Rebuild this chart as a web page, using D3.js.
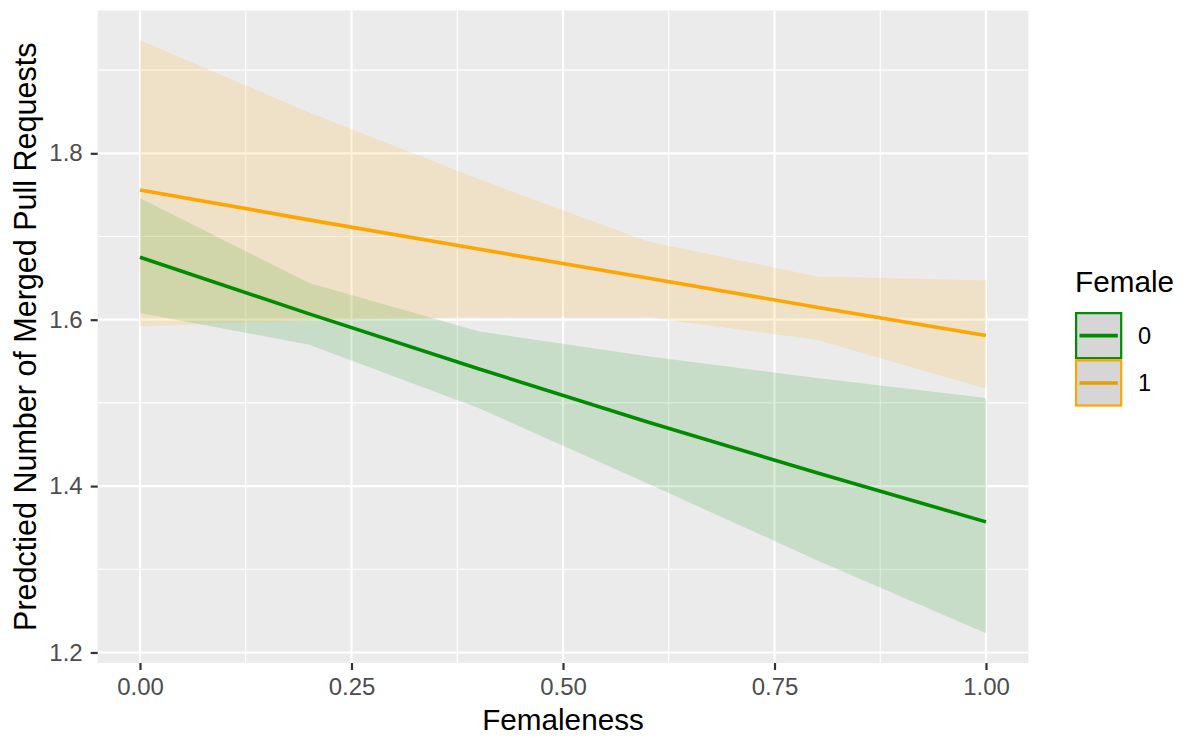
<!DOCTYPE html>
<html>
<head>
  <meta charset="utf-8">
  <script src="https://d3js.org/d3.v7.min.js"></script>
  <style type="text/css">
    body { margin: 0; background: #ffffff; }
    text { font-family: "Liberation Sans", Arial, sans-serif; }
  </style>
</head>
<body>
  <script type="text/javascript">
    "use strict";

    // femaleness values where the model was evaluated
    var femaleness = [0, 0.2, 0.4, 0.6, 0.8, 1.0];

    // Female = 0
    var fit0 = [1.675, 1.607, 1.541, 1.477, 1.416, 1.357];
    var lo0  = [1.608, 1.570, 1.494, 1.403, 1.311, 1.223];
    var hi0  = [1.746, 1.644, 1.586, 1.556, 1.530, 1.506];

    // Female = 1
    var fit1 = [1.756, 1.720, 1.685, 1.650, 1.615, 1.581];
    var lo1  = [1.592, 1.599, 1.603, 1.603, 1.576, 1.517];
    var hi1  = [1.936, 1.849, 1.769, 1.694, 1.652, 1.647];

    var groups = ['0', '1'];
    var colors = ['#008b00', '#ffa500'];

    var xTicks = [0, 0.25, 0.5, 0.75, 1.0];
    var xMinor = [0.125, 0.375, 0.625, 0.875];
    var yTicks = [1.2, 1.4, 1.6, 1.8];
    var yMinor = [1.3, 1.5, 1.7, 1.9];

    var width = 1185,
        height = 738;

    // panel box
    var pLeft = 97.7, pRight = 1028.3, pTop = 10.5, pBottom = 663;

    var svg = d3.select('body')
      .append('svg')
        .attr('width', width)
        .attr('height', height);

    // ggplot style 5% expansion
    var yMin = d3.min(lo0.concat(lo1)),
        yMax = d3.max(hi0.concat(hi1)),
        yPad = (yMax - yMin) * 0.05;

    var x = d3.scaleLinear().domain([-0.05, 1.05]).range([pLeft, pRight]);
    var y = d3.scaleLinear().domain([yMin - yPad, yMax + yPad]).range([pBottom, pTop]);

    //Panel background
    svg.append('rect')
      .attr('x', pLeft).attr('y', pTop)
      .attr('width', pRight - pLeft).attr('height', pBottom - pTop)
      .style('fill', '#ebebeb');

    //Grid lines
    var grid = svg.append('g');
    grid.selectAll('.ymin').data(yMinor).enter().append('line')
      .attr('x1', pLeft).attr('x2', pRight)
      .attr('y1', function (d) { return y(d); })
      .attr('y2', function (d) { return y(d); })
      .style('stroke', '#fff').style('stroke-width', 1.1);
    grid.selectAll('.xmin').data(xMinor).enter().append('line')
      .attr('y1', pTop).attr('y2', pBottom)
      .attr('x1', function (d) { return x(d); })
      .attr('x2', function (d) { return x(d); })
      .style('stroke', '#fff').style('stroke-width', 1.1);
    grid.selectAll('.ymaj').data(yTicks).enter().append('line')
      .attr('x1', pLeft).attr('x2', pRight)
      .attr('y1', function (d) { return y(d); })
      .attr('y2', function (d) { return y(d); })
      .style('stroke', '#fff').style('stroke-width', 2.2);
    grid.selectAll('.xmaj').data(xTicks).enter().append('line')
      .attr('y1', pTop).attr('y2', pBottom)
      .attr('x1', function (d) { return x(d); })
      .attr('x2', function (d) { return x(d); })
      .style('stroke', '#fff').style('stroke-width', 2.2);

    var series = [
      { fit: fit0, lo: lo0, hi: hi0 },
      { fit: fit1, lo: lo1, hi: hi1 }
    ];

    var area = d3.area()
      .x(function (d) { return x(d.x); })
      .y0(function (d) { return y(d.lo); })
      .y1(function (d) { return y(d.hi); });

    var line = d3.line()
      .x(function (d) { return x(d.x); })
      .y(function (d) { return y(d.fit); });

    function rows(s) {
      return femaleness.map(function (f, i) {
        return { x: f, fit: s.fit[i], lo: s.lo[i], hi: s.hi[i] };
      });
    }

    //Confidence ribbons
    series.forEach(function (s, i) {
      svg.append('path')
        .datum(rows(s))
        .attr('d', area)
        .style('fill', colors[i])
        .style('fill-opacity', 0.15);
    });

    //Fitted lines
    series.forEach(function (s, i) {
      svg.append('path')
        .datum(rows(s))
        .attr('d', line)
        .style('fill', 'none')
        .style('stroke', colors[i])
        .style('stroke-width', 3.6);
    });

    //Axes
    var xAxis = svg.append('g')
      .attr('transform', 'translate(0,' + pBottom + ')')
      .call(d3.axisBottom(x).tickValues(xTicks).tickSize(7).tickPadding(8)
        .tickFormat(d3.format('.2f')));
    var yAxis = svg.append('g')
      .attr('transform', 'translate(' + pLeft + ',0)')
      .call(d3.axisLeft(y).tickValues(yTicks).tickSize(7).tickPadding(8)
        .tickFormat(d3.format('.1f')));

    [xAxis, yAxis].forEach(function (a) {
      a.select('.domain').remove();
      a.selectAll('line').style('stroke', '#333333').style('stroke-width', 2.2);
      a.selectAll('text')
        .style('font-family', '"Liberation Sans", Arial, sans-serif')
        .style('font-size', '24px')
        .style('fill', '#4d4d4d');
    });

    //Axis titles
    svg.append('text')
      .attr('x', (pLeft + pRight) / 2)
      .attr('y', 730)
      .style('text-anchor', 'middle')
      .style('font-size', '29.7px')
      .text('Femaleness');

    svg.append('text')
      .attr('transform', 'translate(36,' + (pTop + pBottom) / 2 + ') rotate(-90)')
      .style('text-anchor', 'middle')
      .style('font-size', '30.5px')
      .text('Predctied Number of Merged Pull Requests');

    //Legend
    var legend = svg.append('g').attr('transform', 'translate(1075,0)');
    legend.append('text')
      .attr('x', 0).attr('y', 291.7)
      .style('font-size', '29.7px')
      .text('Female');

    var keySize = 47.3;
    var keys = legend.selectAll('.key').data(groups).enter().append('g')
      .attr('transform', function (d, i) { return 'translate(0,' + (312 + i * keySize) + ')'; });
    keys.append('rect')
      .attr('x', 1.1).attr('y', 1.1)
      .attr('width', keySize - 2.2).attr('height', keySize - 2.2)
      .style('fill', '#d6d6d6')
      .style('stroke', function (d, i) { return colors[i]; })
      .style('stroke-width', 2.2);
    keys.append('line')
      .attr('x1', 4.5).attr('x2', keySize - 4.5)
      .attr('y1', keySize / 2).attr('y2', keySize / 2)
      .style('stroke', function (d, i) { return i === 1 ? '#e69d00' : colors[i]; })
      .style('stroke-width', 3.6);
    keys.append('text')
      .attr('x', 63).attr('y', keySize / 2 + 8)
      .style('font-size', '23.5px')
      .text(function (d) { return d; });
  </script>
</body>
</html>
